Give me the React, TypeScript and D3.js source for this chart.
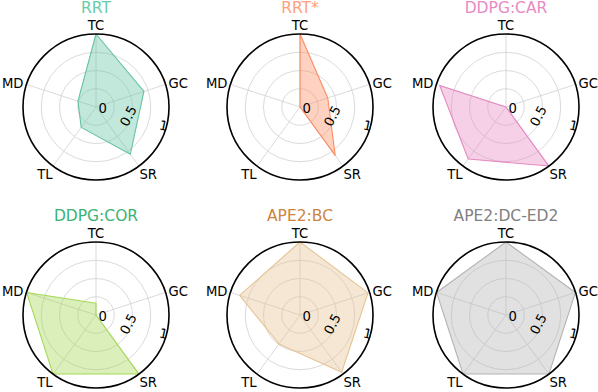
import React from "react";
import * as d3 from "d3";

const categories = ["TC", "GC", "SR", "TL", "MD"];
const titles = ["RRT", "RRT*", "DDPG:CAR", "DDPG:COR", "APE2:BC", "APE2:DC-ED2"];
const rrt = [1.0, 0.69, 0.8, 0.345, 0.26];
const rrtStar = [1.0, 0.4, 0.82, 0.0, 0.0];
const ddpgCar = [0.0, 0.0, 1.0, 0.88, 0.955];
const ddpgCor = [0.16, 0.0, 1.0, 1.0, 1.0];
const ape2Bc = [1.0, 0.98, 0.97, 0.49, 0.87];
const ape2DcEd2 = [1.0, 1.0, 1.0, 1.0, 1.0];
const seriesValues = [rrt, rrtStar, ddpgCar, ddpgCor, ape2Bc, ape2DcEd2];
const lineColors = ["#66c2a5", "#fc8d62", "#e78ac3", "#a6d854", "#e5c494", "#b3b3b3"];
const titleColors = ["#66cdaa", "#ffa07a", "#e78ac3", "#3cb371", "#cd853f", "#808080"];
const gridValues = [0.25, 0.5, 0.75];
const tickValues = [0, 0.5, 1];
const tickLabels = ["0", "0.5", "1"];

const W = 598;
const H = 392;
const R = 73;
const centersX = [96, 300, 506];
const centersY = [107, 315];
const FONT = "DejaVu Sans, sans-serif";
const LABEL_SIZE = 13.2;

const rScale = d3.scaleLinear().domain([0, 1]).range([0, R]);
const angleScale = d3
  .scaleLinear()
  .domain([0, categories.length])
  .range([0, 2 * Math.PI]);

const radar = d3
  .lineRadial<number>()
  .angle((_, i) => angleScale(i))
  .radius((d) => rScale(d))
  .curve(d3.curveLinearClosed);

// tick label direction (clockwise from north)
const tickAngle = (105.5 * Math.PI) / 180;
const tickNudge = [7, -3, -3];
const tickRot = [0, -62, 12];

function Panel({ idx }: { idx: number }) {
  const cx = centersX[idx % 3];
  const cy = centersY[Math.floor(idx / 3)];
  const values = seriesValues[idx];
  const pad = 4;
  return (
    <g transform={`translate(${cx},${cy})`}>
      {gridValues.map((g) => (
        <circle key={g} r={rScale(g)} fill="none" stroke="#d0d0d0" strokeWidth={0.8} />
      ))}
      {categories.map((c, i) => {
        const a = angleScale(i);
        return (
          <line
            key={c}
            x1={0}
            y1={0}
            x2={Math.sin(a) * rScale(1)}
            y2={-Math.cos(a) * rScale(1)}
            stroke="#d0d0d0"
            strokeWidth={0.8}
          />
        );
      })}
      <path
        d={radar(values) || ""}
        fill={lineColors[idx]}
        fillOpacity={0.4}
        stroke={lineColors[idx]}
        strokeWidth={1.1}
        strokeLinejoin="round"
      />
      <circle r={rScale(1)} fill="none" stroke="#000" strokeWidth={1.6} />
      {categories.map((c, i) => {
        const a = angleScale(i);
        const s = Math.sin(a);
        const co = Math.cos(a);
        let anchor = "middle";
        if (s > 0.1) anchor = "start";
        else if (s < -0.1) anchor = "end";
        let dy = "0.35em";
        if (co > 0.5) dy = "0em";
        else if (co < -0.5) dy = "0.76em";
        const xf = co < -0.5 ? 0.2 : 0.8;
        const x = s * (rScale(1) + pad * xf);
        const y = -co * (rScale(1) + pad);
        return (
          <text
            key={c}
            x={x}
            y={y}
            dy={dy}
            textAnchor={anchor}
            fontFamily={FONT}
            fontSize={LABEL_SIZE}
            fill="#000"
          >
            {c}
          </text>
        );
      })}
      {tickValues.map((v, i) => {
        const d = rScale(v) + tickNudge[i];
        const x = Math.sin(tickAngle) * d;
        const y = -Math.cos(tickAngle) * d;
        return (
          <text
            key={v}
            transform={`translate(${x},${y}) rotate(${tickRot[i]})`}
            textAnchor="middle"
            dy="0.35em"
            fontFamily={FONT}
            fontSize={LABEL_SIZE}
            fill="#000"
          >
            {tickLabels[i]}
          </text>
        );
      })}
      <text
        x={0}
        y={-94.3}
        textAnchor="middle"
        fontFamily={FONT}
        fontSize={15.5}
        fill={titleColors[idx]}
      >
        {titles[idx]}
      </text>
    </g>
  );
}

export default function App() {
  return (
    <svg
      width={W}
      height={H}
      style={{ position: "absolute", left: 0, top: 0, background: "#fff" }}
    >
      <rect width={W} height={H} fill="#fff" />
      {titles.map((t, i) => (
        <Panel key={t} idx={i} />
      ))}
    </svg>
  );
}
